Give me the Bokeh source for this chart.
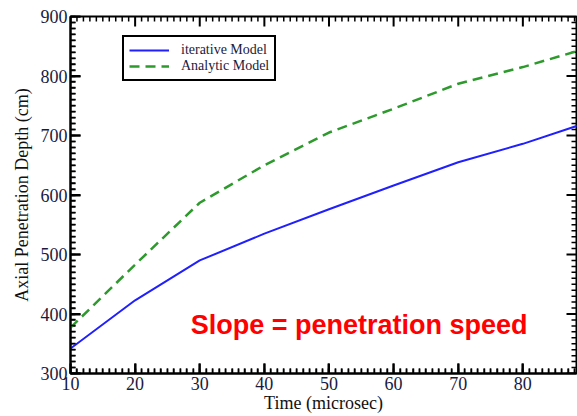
from bokeh.plotting import figure
from bokeh.models import (LinearAxis, SingleIntervalTicker, Range1d, Legend, LegendItem, Label)
from bokeh.embed import file_html
from bokeh.resources import INLINE

time_us = [10, 20, 30, 40, 50, 60, 70, 80, 90]
iterative_model = [342, 423, 490, 535, 576, 616, 655, 686, 722]
analytic_model = [377, 483, 587, 650, 705, 745, 787, 815, 847]

x_label = "Time (microsec)"
y_label = "Axial Penetration Depth (cm)"
note = "Slope = penetration speed"

X_MIN, X_MAX = 10, 88.3
Y_MIN, Y_MAX = 300, 900
x_major = list(range(10, 89, 10))
x_minor = [v for v in range(11, 89) if v % 10 != 0]
y_major = list(range(300, 901, 100))
y_minor = [v for v in range(310, 900, 10) if v % 100 != 0]

W, H = 577, 416
BL, BR, BT, BB = 70, 1, 16, 43
FRAME_W, FRAME_H = W - BL - BR, H - BT - BB

SERIF = "Liberation Serif"
TICK_COLOR = "#1a1a40"

p = figure(width=W, height=H, output_backend="svg", toolbar_location=None,
           x_range=Range1d(X_MIN, X_MAX), y_range=Range1d(Y_MIN, Y_MAX),
           min_border_left=BL, min_border_right=BR, min_border_top=BT, min_border_bottom=BB,
           x_axis_location=None, y_axis_location=None)
p.grid.visible = False
p.outline_line_color = "black"
p.outline_line_width = 2
p.background_fill_color = None
p.border_fill_color = None


def label_axis(kind, title):
    if kind == "x":
        ticker = SingleIntervalTicker(interval=10, num_minor_ticks=10)
    else:
        ticker = SingleIntervalTicker(interval=100, num_minor_ticks=10)
    ax = LinearAxis(ticker=ticker)
    ax.axis_line_color = "black"
    ax.axis_line_width = 2
    ax.major_tick_in = 10
    ax.major_tick_out = 0
    ax.minor_tick_in = 5
    ax.minor_tick_out = 0
    ax.major_tick_line_color = "black"
    ax.minor_tick_line_color = "black"
    ax.major_tick_line_width = 2
    ax.minor_tick_line_width = 1.5
    ax.major_label_text_font = SERIF
    ax.major_label_text_font_size = "18px"
    ax.major_label_text_color = TICK_COLOR
    ax.major_label_standoff = 3
    ax.axis_label = title
    ax.axis_label_text_font = SERIF
    ax.axis_label_text_font_size = "18px"
    ax.axis_label_text_font_style = "normal"
    ax.axis_label_text_color = "#111111"
    ax.axis_label_standoff = 0
    return ax


xb = label_axis("x", x_label)
yl = label_axis("y", y_label)
yl.axis_label_standoff = 6
p.add_layout(xb, "below")
p.add_layout(yl, "left")

# inward ticks on all four sides of the frame (pixel lengths converted to data units)
px_x = (X_MAX - X_MIN) / FRAME_W
px_y = (Y_MAX - Y_MIN) / FRAME_H


def vticks(xs, y0, dy, width):
    p.segment(x0=xs, y0=[y0] * len(xs), x1=xs, y1=[y0 + dy] * len(xs),
              line_color="black", line_width=width)


def hticks(ys, x0, dx, width):
    p.segment(x0=[x0] * len(ys), y0=ys, x1=[x0 + dx] * len(ys), y1=ys,
              line_color="black", line_width=width)


vticks(x_major, Y_MIN, 10 * px_y, 2)
vticks(x_minor, Y_MIN, 5 * px_y, 1.5)
vticks(x_major, Y_MAX, -10 * px_y, 2)
vticks(x_minor, Y_MAX, -5 * px_y, 1.5)
hticks(y_major, X_MIN, 10 * px_x, 2)
hticks(y_minor, X_MIN, 5 * px_x, 1.5)
hticks(y_major, X_MAX, -10 * px_x, 2)
hticks(y_minor, X_MAX, -5 * px_x, 1.5)

r1 = p.line(time_us, iterative_model, line_color="#1f1fff", line_width=2)
r2 = p.line(time_us, analytic_model, line_color="#2e9a2e", line_width=2.5, line_dash="10 6")

legend = Legend(items=[LegendItem(label="iterative Model", renderers=[r1]),
                       LegendItem(label="Analytic Model", renderers=[r2])],
                location=(52, 292), margin=0, padding=5, spacing=0,
                glyph_width=40, glyph_height=14, label_height=14, label_standoff=12,
                label_text_font=SERIF, label_text_font_size="14px",
                label_text_color="#1a1a40",
                border_line_color="black", border_line_width=2, border_line_alpha=1,
                background_fill_color="white", background_fill_alpha=1)
p.add_layout(legend, "center")

p.add_layout(Label(x=28.6, y=381, text=note, text_font="Liberation Sans",
                   text_font_style="bold", text_font_size="27px",
                   text_color="#ff0000", text_baseline="middle", text_align="left"))

open("out.html", "w").write(file_html(p, INLINE))
